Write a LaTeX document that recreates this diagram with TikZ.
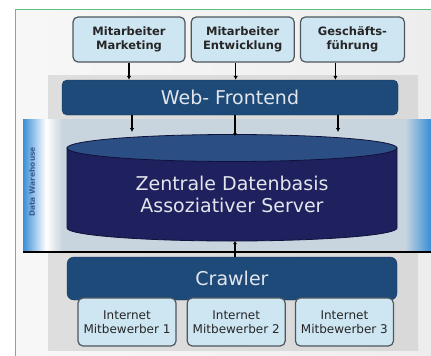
\documentclass[tikz,border=0pt]{standalone}
\usepackage{fontspec}
\setmainfont{DejaVu Sans}
\usepackage{xcolor}
\usetikzlibrary{arrows.meta, positioning, backgrounds}

\definecolor{navy}{HTML}{1E4A7A}
\definecolor{navyline}{HTML}{16365A}
\definecolor{dbbody}{HTML}{1F205E}
\definecolor{dbtop}{HTML}{2B4E84}
\definecolor{dbline}{HTML}{10123A}
\definecolor{boxfill}{HTML}{CDE6F2}
\definecolor{boxline}{HTML}{4E565E}
\definecolor{lighttext}{HTML}{E2E6EC}
\definecolor{bandgray}{HTML}{C8D5DE}
\definecolor{dwblue}{HTML}{3A8ED6}
\definecolor{dwtext}{HTML}{3B5D95}
\definecolor{framegreen}{HTML}{5CBF7A}

\begin{document}
\begin{tikzpicture}[
    x=1pt, y=-1pt,
    node distance=5pt,
    userbox/.style={rectangle, rounded corners=5pt, draw=boxline, line width=1.2pt, fill=boxfill, minimum height=45pt, align=center, inner sep=0pt, text=black!85, font=\fontsize{11.5}{14}\selectfont\bfseries},
    sitebox/.style={rectangle, rounded corners=5pt, draw=boxline, line width=1.2pt, fill=boxfill, minimum width=98pt, minimum height=48pt, align=center, inner sep=0pt, text=black!85, font=\fontsize{12}{14}\selectfont},
    layer/.style={rectangle, rounded corners=5pt, draw=navyline, fill=navy, text=lighttext, inner sep=0pt, font=\fontsize{19}{22}\selectfont},
    arrow/.style={-{Latex[length=4pt,width=4.5pt]}, line width=1.3pt},
    dot/.style={-{Latex[length=3pt,width=4pt]}, line width=1.3pt}
]
    \useasboundingbox (0,0) rectangle (431,356);

    % background
    \fill[white] (0,0) rectangle (431,356);
    \shade[left color=gray!6, right color=gray!14] (15,9) rectangle (431,356);
    \shade[left color=gray!26, right color=gray!30] (48,75) rectangle (418,350);
    \fill[bandgray] (23,119) rectangle (431,252);
    \shade[left color=dwblue, right color=white] (23,119) rectangle (46,252);
    \shade[left color=white, right color=bandgray] (46,119) rectangle (62,252);
    \shade[left color=bandgray, right color=dwblue] (405,119) rectangle (431,252);
    \draw[line width=1.6pt] (23,252) -- (431,252);
    \draw[framegreen, line width=1pt] (431,9) -- (15,9) -- (15,356);
    \node[rotate=90, text=dwtext, font=\fontsize{7.5}{9}\selectfont\bfseries] (dwlabel) at (32,182) {Data Warehouse};

    % users
    \node[userbox, minimum width=112pt] (marketing) at (129,39.5) {Mitarbeiter\\Marketing};
    \node[userbox, minimum width=103pt, right=of marketing] (entwicklung) {Mitarbeiter\\Entwicklung};
    \node[userbox, minimum width=104pt, right=of entwicklung] (fuehrung) {Geschäfts-\\führung};

    \node[layer, minimum width=336pt, minimum height=35pt] (frontend) at (230,97.5) {Web- Frontend};

    % database
    \fill[dbbody, draw=dbline, line width=0.8pt] (67,148) -- (67,228) arc[start angle=180, end angle=360, x radius=165pt, y radius=13pt] -- (397,148) -- cycle;
    \filldraw[fill=dbtop, draw=dbline, line width=0.8pt] (232,148) ellipse [x radius=165pt, y radius=13.5pt];
    \node[text=lighttext, align=center, font=\fontsize{19}{22}\selectfont] (datenbasis) at (232,194) {Zentrale Datenbasis\\Assoziativer Server};
    \coordinate (dbtop) at (235,136);
    \coordinate (dbbottom) at (235,241);
    \coordinate (in1) at (132,132);
    \coordinate (in3) at (338,132);

    \node[layer, minimum width=330pt, minimum height=43pt, rounded corners=7pt] (crawler) at (232,278.5) {Crawler};

    % sources
    \node[sitebox] (site1) at (127,322) {Internet\\Mitbewerber 1};
    \node[sitebox, right=10pt of site1] (site2) {Internet\\Mitbewerber 2};
    \node[sitebox, right=9pt of site2] (site3) {Internet\\Mitbewerber 3};

    \draw[arrow] (marketing.south) -- (marketing.south |- frontend.north);
    \draw[arrow] ([xshift=-7pt]entwicklung.south) -- ([xshift=-7pt]entwicklung.south |- frontend.north);
    \draw[arrow] ([xshift=-17pt]fuehrung.south) -- ([xshift=-17pt]fuehrung.south |- frontend.north);
    \draw[arrow] (frontend.south -| in1) -- (in1);
    \draw[arrow] (frontend.south -| in3) -- (in3);
    \draw[dot] (frontend.south -| dbtop) -- (dbtop);
    \draw[dot] (crawler.north -| dbbottom) -- (dbbottom);
\end{tikzpicture}
\end{document}
